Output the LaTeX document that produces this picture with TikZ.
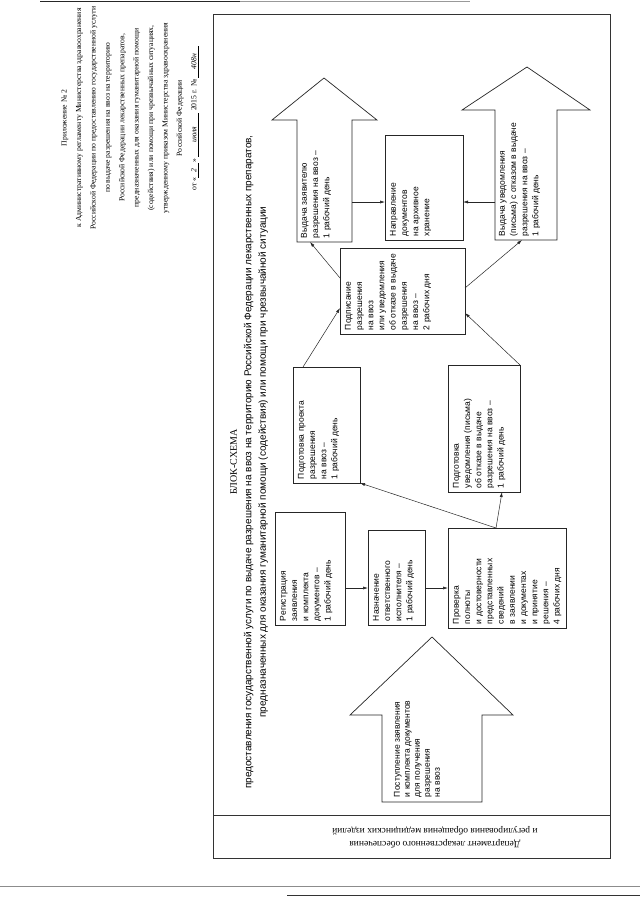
\documentclass[tikz,border=0pt]{standalone}
\usepackage{fontspec}
\setmainfont{Liberation Serif}
\setsansfont{Liberation Sans}
\usetikzlibrary{arrows.meta,calc}
\tikzset{
  bx/.style={draw=black!85, line width=0.7pt, inner sep=0pt, outer sep=0pt},
  conn/.style={draw=black!85, line width=0.5pt, -{Latex[length=5pt,width=3pt]}},
  bigarrow/.style={draw=black!85, line width=0.7pt},
  txt/.style={inner sep=0pt, outer sep=0pt},
}
\newcommand\bxfont{\sffamily\fontsize{8.5}{11.2}\selectfont}
% name x1 y1 x2 y2 text
\newcommand\mybox[6]{%
  \node[bx, minimum width={#4-#2}, minimum height={#5-#3}] (#1) at ({(#2+#4)/2},{(#3+#5)/2}) {};
  \node[txt, anchor=south west] (#1-t) at (#2+5, #5-4) {\rotatebox{90}{\parbox[b]{\dimexpr#5pt-#3pt-7pt\relax}{\bxfont\raggedright #6}}};
}
\begin{document}
\begin{tikzpicture}[x=1pt,y=-1pt]
\useasboundingbox (0,0) rectangle (640,905);
\fill[white] (0,0) rectangle (640,905);
% scan edge lines
\draw[line width=1.5pt, black!85] (40,1.5) -- (240,1.5);
\draw[line width=0.8pt, black!40] (240,1.5) -- (470,1.5);
\draw[line width=0.6pt, black!45] (0,886) -- (640,886);
\draw[line width=1pt, black!80] (287,895) -- (640,895);

% header
\node[txt] (hdr) at (130,118) {\rotatebox{90}{\parbox{260pt}{\centering\fontsize{7.7}{14.4}\selectfont
Приложение № 2\\
к Административному регламенту Министерства здравоохранения\\
Российской Федерации по предоставлению государственной услуги\\
по выдаче разрешения на ввоз на территорию\\
Российской Федерации лекарственных препаратов,\\
предназначенных для оказания гуманитарной помощи\\
(содействия) или помощи при чрезвычайных ситуациях,\\
утвержденному приказом Министерства здравоохранения\\
Российской Федерации\\
от «\underline{\makebox[15pt]{\textit{2}}}» \underline{\makebox[44pt]{\textit{июля}}} 2015 г. № \underline{\makebox[32pt]{\textit{408н}}}}}};

% frame
\draw[line width=0.8pt, black!80] (213,14) rectangle (610,858);
\draw[line width=0.8pt, black!80] (213,815) -- (610,815);

% title
\node[txt] (title) at (249,462) {\rotatebox{90}{\parbox{760pt}{\centering\fontsize{10}{14.5}\selectfont
БЛОК-СХЕМА\\
\sffamily предоставления государственной услуги по выдаче разрешения на ввоз на территорию Российской Федерации лекарственных препаратов,\\
предназначенных для оказания гуманитарной помощи (содействия) или помощи при чрезвычайной ситуации}}};

% department
\node[txt] (dept) at (435,837) {\rotatebox{180}{\parbox{340pt}{\centering\fontsize{9.5}{13}\selectfont
Департамент лекарственного обеспечения\\
и регулирования обращения медицинских изделий}}};

% boxes
\mybox{reg}{275}{512}{345}{625}{Регистрация\\заявления\\и комплекта\\документов –\\1 рабочий день}
\mybox{naz}{368}{530}{425}{625}{Назначение\\ответственного\\исполнителя –\\1 рабочий день}
\mybox{prov}{448}{528}{566}{628}{Проверка\\полноты\\и достоверности\\представленных\\сведений\\в заявлении\\и документах\\и принятие\\решения –\\4 рабочих дня}
\mybox{pp}{293}{367}{360}{483}{Подготовка проекта\\разрешения\\на ввоз –\\1 рабочий день}
\mybox{pu}{448}{365}{520}{492}{Подготовка\\уведомления (письма)\\об отказе в выдаче\\разрешения на ввоз –\\1 рабочий день}
\mybox{pod}{340}{248}{465}{334}{Подписание\\разрешения\\на ввоз\\или уведомления\\об отказе в выдаче\\разрешения\\на ввоз –\\2 рабочих дня}
\mybox{nap}{385}{135}{463}{240}{Направление\\документов\\на архивное\\хранение}

% input arrow
\draw[bigarrow] (382,802) -- (382,715) -- (350,715) -- (432,637) -- (513,715) -- (482,715) -- (482,802) -- cycle;
\node[txt, anchor=south west] (in-t) at (394,797) {\rotatebox{90}{\parbox[b]{130pt}{\bxfont\fontsize{8.5}{10}\selectfont\raggedright Поступление заявления\\и комплекта документов\\для получения\\разрешения\\на ввоз}}};

% output arrow 1
\draw[bigarrow] (297,242) -- (297,120) -- (272,120) -- (324,78) -- (377,120) -- (352,120) -- (352,242) -- cycle;
\coordinate (vzb) at (310,242);
\coordinate (vzr) at (352,202);
\node[txt, anchor=south west] (vz-t) at (301,238) {\rotatebox{90}{\parbox[b]{118pt}{\bxfont\raggedright Выдача заявителю\\разрешения на ввоз –\\1 рабочий день}}};

% output arrow 2
\draw[bigarrow] (495,240) -- (495,110) -- (462,110) -- (527,67) -- (590,110) -- (557,110) -- (557,240) -- cycle;
\coordinate (vub) at (522,240);
\coordinate (vul) at (495,202);
\node[txt, anchor=south west] (vu-t) at (499,236) {\rotatebox{90}{\parbox[b]{126pt}{\bxfont\raggedright Выдача уведомления\\(письма) с отказом в выдаче\\разрешения на ввоз –\\1 рабочий день}}};

% connectors
\draw[conn] ($(reg.south east)+(0,-37)$) -- ($(naz.south west)+(0,-37)$);
\draw[conn] ($(naz.south east)+(0,-37)$) -- ($(prov.south west)+(0,-40)$);
\draw[conn] ($(prov.north west)+(48,0)$) -- (pp.south east);
\draw[conn] ($(prov.north west)+(48,0)$) -- ($(pu.south west)+(54,0)$);
\draw[conn] ($(pp.north west)+(10,0)$) -- ($(pod.south west)+(0,-26)$);
\draw[conn] (pu.north east) -- ($(pod.south east)+(0,-21)$);
\draw[conn] ($(pod.north west)+(0,30)$) -- (vzb);
\draw[conn] ($(pod.north east)+(0,40)$) -- (vub);
\draw[conn] (vzr) -- (vzr -| nap.west);
\draw[conn] (vul) -- (vul -| nap.east);
\end{tikzpicture}
\end{document}
